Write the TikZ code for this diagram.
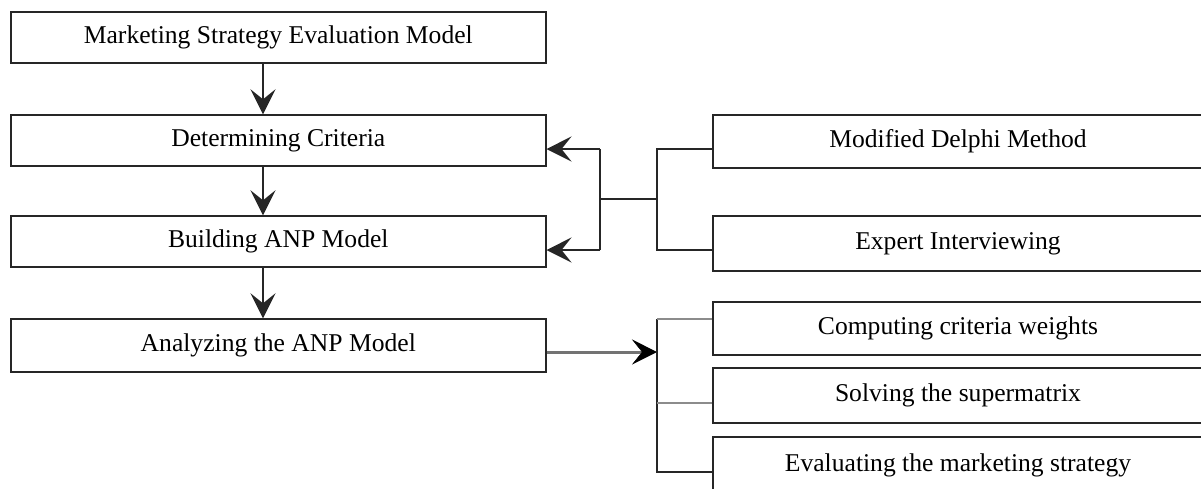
\documentclass[tikz,border=0pt]{standalone}
\usepackage{fontspec}
\setmainfont{Liberation Serif}
\usetikzlibrary{arrows.meta}
\begin{document}
\begin{tikzpicture}[x=1pt,y=-1pt,
  lbox/.style={draw=black!85, line width=1.4pt, minimum width=535pt, inner sep=0pt, font=\fontsize{25.6}{30}\selectfont},
  rbox/.style={draw=black!85, line width=1.4pt, minimum width=490pt, inner sep=0pt, font=\fontsize{25.6}{30}\selectfont},
  conn/.style={draw=black!85, line width=1.4pt},
  grayconn/.style={draw=black!45, line width=1.1pt},
  arr/.style={conn, -{Stealth[length=25pt, width=25pt, inset=10pt]}},
  grayarr/.style={draw=black!55, line width=3pt, -{Stealth[length=25pt, width=25pt, inset=10pt, black, line width=0.5pt]}}
]
\useasboundingbox (0,0) rectangle (1201,488);
\fill[white] (0,0) rectangle (1201,488);
\clip (0,0) rectangle (1201,488);

% left column
\node[lbox, minimum height=51pt] (m)  at (278.3,37.5)  {Marketing Strategy Evaluation Model};
\node[lbox, minimum height=51pt] (dc) at (278.3,140.5) {Determining Criteria};
\node[lbox, minimum height=51pt] (bm) at (278.3,241.5) {Building ANP Model};
\node[lbox, minimum height=53pt] (an) at (278.3,345.5) {Analyzing the ANP Model};

% right column
\node[rbox, minimum height=53pt] (dm) at (958,141.5) {Modified Delphi Method};
\node[rbox, minimum height=55pt] (ex) at (958,243.5) {Expert Interviewing};
\node[rbox, minimum height=53pt] (cw) at (958,328.5) {Computing criteria weights};
\node[rbox, minimum height=55pt] (sm) at (958,395.5) {Solving the supermatrix};
\node[rbox, minimum height=56pt] (ev) at (958,465)   {Evaluating the marketing strategy};

% vertical flow
\draw[arr] ([xshift=-15.3pt]m.south)  -- ([xshift=-15.3pt]dc.north);
\draw[arr] ([xshift=-15.3pt]dc.south) -- ([xshift=-15.3pt]bm.north);
\draw[arr] ([xshift=-15.3pt]bm.south) -- ([xshift=-15.3pt]an.north);

% upper bracket
\coordinate (j1) at (600,149);
\coordinate (j2) at (600,250);
\coordinate (jm) at (600,199);
\coordinate (k1) at (657,149);
\coordinate (k2) at (657,250);
\coordinate (km) at (657,199);
\draw[conn] (dm.west |- k1) -- (k1) -- (k2) -- (ex.west |- k2);
\draw[conn] (km) -- (jm);
\draw[conn] (j1) -- (j2);
\draw[arr] (j1) -- (dc.east |- j1);
\draw[arr] (j2) -- (bm.east |- j2);

% lower bracket
\coordinate (a0) at (546,352);
\coordinate (b0) at (657,352);
\coordinate (b1) at (657,319);
\coordinate (b2) at (657,403);
\coordinate (b3) at (657,472);
\draw[grayarr] (an.east |- a0) -- (b0);
\draw[conn] (b1) -- (b3) -- (ev.west |- b3);
\draw[grayconn] (b1) -- (cw.west |- b1);
\draw[grayconn] (b2) -- (sm.west |- b2);
\end{tikzpicture}
\end{document}
